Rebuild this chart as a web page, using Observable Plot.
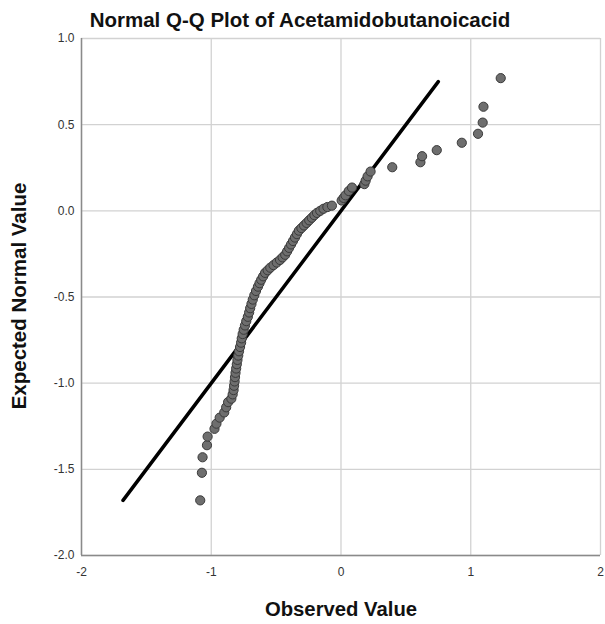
<!DOCTYPE html>
<html>
<head>
<meta charset="utf-8">
<script src="https://cdn.jsdelivr.net/npm/d3@7"></script>
<script src="https://cdn.jsdelivr.net/npm/@observablehq/plot@0.6"></script>
<style>
  html, body { margin: 0; padding: 0; background: #fff; }
  svg { font-family: "Liberation Sans", Arial, sans-serif; }
</style>
</head>
<body>
<div id="chart"></div>
<script>
const chartTitle = "Normal Q-Q Plot of Acetamidobutanoicacid";
const xLabel = "Observed Value";
const yLabel = "Expected Normal Value";

const observed = [
  -1.085, -1.072, -1.067, -1.033, -1.028, -0.975, -0.960, -0.935, -0.900, -0.885,
  -0.870, -0.845, -0.835, -0.828, -0.824, -0.820, -0.817, -0.813, -0.808, -0.803,
  -0.798, -0.792, -0.786, -0.778, -0.770, -0.765, -0.758, -0.750, -0.740, -0.730,
  -0.718, -0.708, -0.700, -0.690, -0.680, -0.668, -0.655, -0.640, -0.628, -0.615,
  -0.600, -0.585, -0.565, -0.545, -0.520, -0.495, -0.470, -0.450, -0.430, -0.415,
  -0.400, -0.385, -0.370, -0.355, -0.340, -0.325, -0.305, -0.285, -0.265, -0.245,
  -0.225, -0.205, -0.185, -0.160, -0.135, -0.105, -0.070, 0.005, 0.020, 0.035,
  0.060, 0.085, 0.180, 0.190, 0.205, 0.228, 0.395, 0.612, 0.625, 0.738,
  0.931, 1.056, 1.092, 1.098, 1.231
];
const expected = [
  -1.680, -1.520, -1.430, -1.360, -1.310, -1.265, -1.235, -1.200, -1.170, -1.140,
  -1.110, -1.090, -1.065, -1.040, -1.015, -0.990, -0.965, -0.940, -0.915, -0.890,
  -0.865, -0.840, -0.815, -0.790, -0.765, -0.740, -0.715, -0.690, -0.665, -0.640,
  -0.615, -0.590, -0.565, -0.540, -0.515, -0.490, -0.465, -0.440, -0.420, -0.400,
  -0.380, -0.360, -0.345, -0.330, -0.315, -0.300, -0.285, -0.270, -0.255, -0.235,
  -0.215, -0.195, -0.175, -0.155, -0.135, -0.115, -0.100, -0.085, -0.070, -0.055,
  -0.040, -0.025, -0.012, 0.000, 0.012, 0.022, 0.030, 0.060, 0.075, 0.090,
  0.115, 0.135, 0.155, 0.175, 0.200, 0.228, 0.253, 0.282, 0.317, 0.352,
  0.395, 0.447, 0.512, 0.604, 0.770
];
const lineEnds = [-1.68, 0.75];
const xTicks = [-2, -1, 0, 1, 2];
const yTicks = [-2.0, -1.5, -1.0, -0.5, 0.0, 0.5, 1.0];

const points = observed.map((x, i) => ({x, y: expected[i]}));
const refLine = lineEnds.map(v => ({x: v, y: v}));

const chart = Plot.plot({
  width: 605,
  height: 624,
  marginLeft: 81,
  marginRight: 5,
  marginTop: 38,
  marginBottom: 69,
  style: {fontFamily: '"Liberation Sans", Arial, sans-serif', background: "#fff"},
  x: {domain: [-2, 2]},
  y: {domain: [-2, 1]},
  marks: [
    Plot.gridX(xTicks, {stroke: "#d2d2d2", strokeOpacity: 1, strokeWidth: 1.3}),
    Plot.gridY(yTicks, {stroke: "#d2d2d2", strokeOpacity: 1, strokeWidth: 1.3}),
    Plot.axisX(xTicks, {tickSize: 0, tickPadding: 12, fontSize: 12, fill: "#333", label: null,
      tickFormat: d => d3.format("d")(d).replace("−", "-")}),
    Plot.axisY(yTicks, {tickSize: 0, tickPadding: 7, fontSize: 12, fill: "#333", label: null,
      tickFormat: d => d3.format(".1f")(d).replace("−", "-")}),
    Plot.ruleX([-2], {stroke: "#8a8a8a", strokeWidth: 1.5}),
    Plot.ruleY([-2], {stroke: "#8a8a8a", strokeWidth: 1.5}),
    Plot.line(refLine, {x: "x", y: "y", stroke: "#000", strokeWidth: 3.5}),
    Plot.dot(points, {x: "x", y: "y", r: 4.6, fill: "#6e6e6e", stroke: "#3a3a3a", strokeWidth: 1}),
    Plot.text([chartTitle], {frameAnchor: "top", lineAnchor: "middle", dy: -18, dx: -41, fontSize: 20.5, fontWeight: "bold", fill: "#111", text: d => d}),
    Plot.text([xLabel], {frameAnchor: "bottom", lineAnchor: "middle", dy: 54, fontSize: 20.3, fontWeight: "bold", fill: "#111", text: d => d}),
    Plot.text([yLabel], {frameAnchor: "left", textAnchor: "middle", lineAnchor: "middle", dx: -62.5, dy: -1, rotate: -90, fontSize: 20.5, fontWeight: "bold", fill: "#111", text: d => d})
  ]
});
document.getElementById("chart").appendChild(chart);
</script>
</body>
</html>
